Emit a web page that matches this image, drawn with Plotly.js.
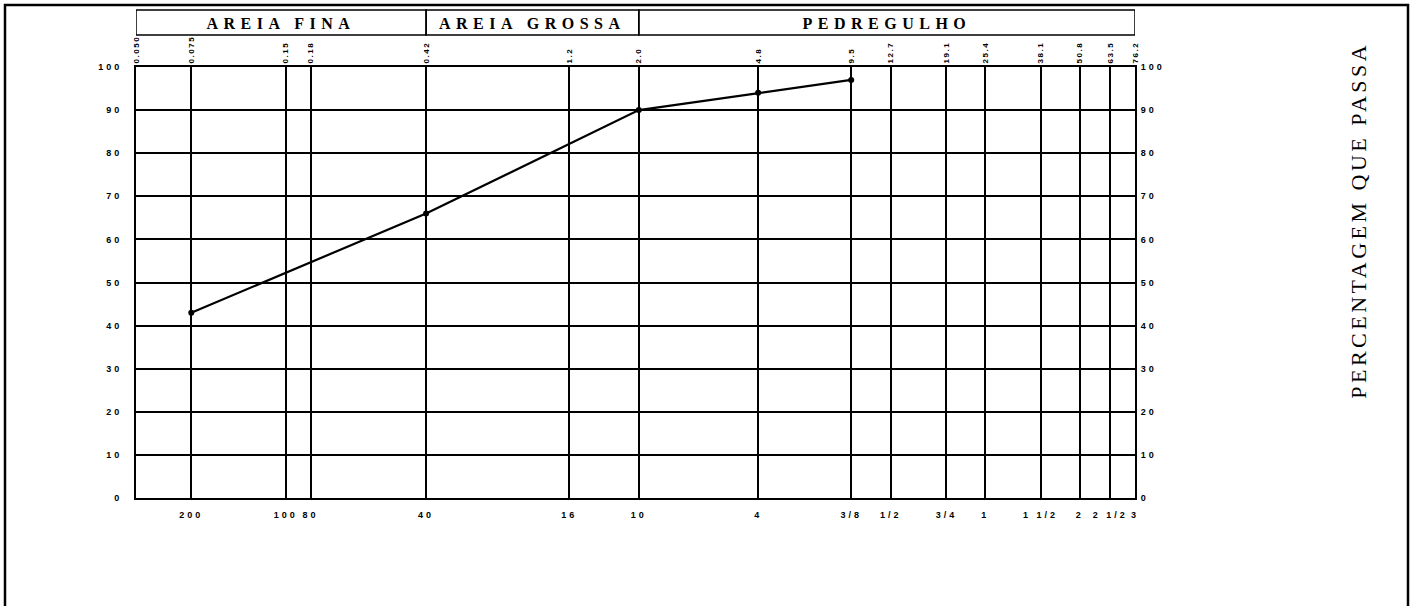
<!DOCTYPE html>
<html><head><meta charset="utf-8">
<script src="https://cdn.plot.ly/plotly-3.0.1.min.js"></script>
<style>
body{margin:0;background:#fff}
#chart{width:1419px;height:606px}
.xtick text, .ytick text, .y2tick text {letter-spacing:3px}
.x2tick text {letter-spacing:1.5px}
g.annotation[data-index="0"] text, g.annotation[data-index="1"] text, g.annotation[data-index="2"] text {letter-spacing:5.5px}
g.annotation[data-index="3"] text {letter-spacing:3.5px}
</style>
</head><body><div id="chart"></div>
<script>
// sieve openings (mm) and their sieve numbers (bottom axis)
const sieveMM = [0.075, 0.15, 0.18, 0.42, 1.2, 2.0, 4.8, 9.5, 12.7, 19.1, 25.4, 38.1, 50.8, 63.5, 76.2];
const sieveNames = ['200', '100', '80', '40', '16', '10', '4', '3/8', '1/2', '3/4', '1', '1 1/2', '2', '2 1/2', '3'];
// openings printed on the top axis
const openingMM = [0.05, 0.075, 0.15, 0.18, 0.42, 1.2, 2.0, 4.8, 9.5, 12.7, 19.1, 25.4, 38.1, 50.8, 63.5, 76.2];
const openingLabels = ['0.050', '0.075', '0.15', '0.18', '0.42', '1.2', '2.0', '4.8', '9.5', '12.7', '19.1', '25.4', '38.1', '50.8', '63.5', '76.2'];
// grading curve
const sampleMM = [0.075, 0.42, 2.0, 4.8, 9.5];
const samplePassing = [43, 66, 90, 94, 97];
// soil fraction bands
const bandNames = ['AREIA FINA', 'AREIA GROSSA', 'PEDREGULHO'];
const bandFrom = [0.05, 0.42, 2.0];
const bandTo = [0.42, 2.0, 76.2];
const yTicks = [0, 10, 20, 30, 40, 50, 60, 70, 80, 90, 100];
const yTitle = 'PERCENTAGEM QUE PASSA';

const W = 1419, H = 606;
const M = {l: 136, r: 284, t: 67, b: 108};
const plotH = H - M.t - M.b, plotW = W - M.l - M.r;
const py = p => (H - M.b - p) / plotH;   // pixel y -> paper y
const px = p => (p - M.l) / plotW;       // pixel x -> paper x

const xRange = [Math.log10(openingMM[0]), Math.log10(openingMM[openingMM.length - 1])];
const tickFont = {family: 'Liberation Sans, Arial, sans-serif', size: 9, color: '#000', weight: 'bold'};

const traces = [
  {x: sampleMM, y: samplePassing, type: 'scatter', mode: 'lines+markers',
   line: {color: '#000', width: 2.2}, marker: {color: '#000', size: 6},
   showlegend: false, hoverinfo: 'x+y'},
  {x: openingMM, y: openingMM.map(() => null), xaxis: 'x2', yaxis: 'y2', type: 'scatter',
   mode: 'markers', showlegend: false, hoverinfo: 'skip'}
];

const shapes = bandNames.map((n, i) => ({
  type: 'rect', xref: 'x', yref: 'paper', x0: bandFrom[i], x1: bandTo[i],
  y0: py(35), y1: py(10), line: {color: '#000', width: 1.5}
}));
shapes.push({type: 'rect', xref: 'paper', yref: 'paper', x0: px(5), x1: px(1408),
  y0: -0.4, y1: py(5), line: {color: '#000', width: 2.5}});

const annotations = bandNames.map((n, i) => ({
  text: n, xref: 'x', yref: 'paper',
  x: (Math.log10(bandFrom[i]) + Math.log10(bandTo[i])) / 2, y: py(23),
  xanchor: 'center', yanchor: 'middle',
  showarrow: false, font: {family: 'Liberation Serif, Times New Roman, serif', size: 16, color: '#000', weight: 'bold'}
}));
annotations.push({text: yTitle, xref: 'paper', yref: 'paper', x: px(1358), y: py(220),
  xanchor: 'center', yanchor: 'middle', textangle: -90, showarrow: false,
  font: {family: 'Liberation Serif, Times New Roman, serif', size: 22, color: '#000'}});

const layout = {
  width: W, height: H, margin: M, paper_bgcolor: '#fff', plot_bgcolor: '#fff',
  showlegend: false,
  xaxis: {type: 'log', range: xRange, tickmode: 'array', tickvals: sieveMM, ticktext: sieveNames,
    tickangle: 0, showgrid: true, gridcolor: '#000', gridwidth: 2, zeroline: false,
    showline: true, linecolor: '#000', linewidth: 2, mirror: true,
    ticks: 'outside', ticklen: 7, tickcolor: 'rgba(0,0,0,0)', tickfont: tickFont},
  xaxis2: {type: 'log', range: xRange, overlaying: 'x', side: 'top', anchor: 'y',
    tickmode: 'array', tickvals: openingMM, ticktext: openingLabels, tickangle: -90,
    showgrid: false, zeroline: false, showline: false, ticks: 'outside', ticklen: 1,
    tickcolor: 'rgba(0,0,0,0)', tickfont: {family: 'Liberation Sans, Arial, sans-serif', size: 8, color: '#000', weight: 'bold'}},
  yaxis: {range: [0, 100], tickmode: 'array', tickvals: yTicks, showgrid: true,
    gridcolor: '#000', gridwidth: 2, zeroline: false, showline: true, linecolor: '#000',
    linewidth: 2, mirror: true, ticks: 'outside', ticklen: 10, tickcolor: 'rgba(0,0,0,0)',
    tickfont: tickFont},
  yaxis2: {range: [0, 100], overlaying: 'y', side: 'right', anchor: 'x', tickmode: 'array',
    tickvals: yTicks, showgrid: false, zeroline: false, showline: false, ticks: 'outside',
    ticklen: 3, tickcolor: 'rgba(0,0,0,0)', tickfont: tickFont},
  shapes: shapes, annotations: annotations
};

Plotly.newPlot('chart', traces, layout, {displayModeBar: false, staticPlot: true});
</script>
</body></html>
